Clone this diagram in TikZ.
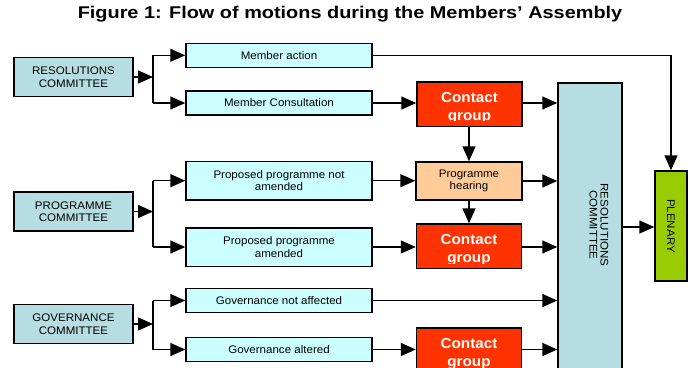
\documentclass[tikz,border=0pt]{standalone}
\usepackage{fontspec}
\setmainfont{Liberation Sans}[FakeStretch=1.05]
\newfontfamily\titlefont{Liberation Sans}[FakeStretch=1.17]
\usetikzlibrary{arrows.meta}
\definecolor{cyanfill}{HTML}{CCFFFF}
\definecolor{comfill}{HTML}{B6DDE1}
\definecolor{contactred}{HTML}{FF3300}
\definecolor{peach}{HTML}{FFCC99}
\definecolor{plengreen}{HTML}{99CC00}
\tikzset{
 box/.style={draw=black, line width=1.5pt, inner sep=0pt, align=center,
   font=\fontsize{11pt}{12.5pt}\selectfont},
 com/.style={box, fill=comfill, minimum width=119pt, minimum height=39pt},
 opt/.style={box, fill=cyanfill, minimum width=186pt, minimum height=24pt},
 opttwo/.style={opt, minimum height=38.5pt},
 hearing/.style={box, fill=peach, minimum width=106pt, minimum height=38pt},
 contact/.style={draw=black, line width=1.5pt, fill=contactred, inner sep=0pt,
   minimum width=105pt, minimum height=44.5pt,
   path picture={
     \clip ([yshift=5.5pt]path picture bounding box.south west) rectangle (path picture bounding box.north east);
     \node[anchor=base, text=white, inner sep=0pt, font=\fontsize{14.5pt}{17pt}\selectfont\bfseries]
       at ([yshift=-20.5pt]path picture bounding box.north) {Contact};
     \node[anchor=base, text=white, inner sep=0pt, font=\fontsize{14.5pt}{17pt}\selectfont\bfseries]
       at ([yshift=-38.5pt]path picture bounding box.north) {group};
   }},
 bigbox/.style={draw=black, line width=1.5pt, fill=comfill, minimum width=64pt, minimum height=297pt, inner sep=0pt},
 plen/.style={box, fill=plengreen, minimum width=32pt, minimum height=110pt},
 arr/.style={line width=1.5pt, -{Triangle[length=15pt,width=13pt]}},
 ln/.style={line width=1.5pt},
}
\begin{document}
\begin{tikzpicture}[x=1pt,y=-1pt]
\useasboundingbox (0,0) rectangle (690,367);
\clip (0,0) rectangle (690,367);
\node[anchor=base, inner sep=0pt, font=\titlefont\fontsize{17pt}{20pt}\selectfont\bfseries] (title) at (350,18)
  {Figure 1: Flow of motions during the Members’ Assembly};

% committees
\node[com] (rescom) at (73.5,77) {RESOLUTIONS\\COMMITTEE};
\node[com] (procom) at (73.5,211.5) {PROGRAMME\\COMMITTEE};
\node[com] (govcom) at (73.5,324) {GOVERNANCE\\COMMITTEE};

% options
\node[opt] (ma) at (279,55.3) {Member action};
\node[opt] (mc) at (279,103) {Member Consultation};
\node[opttwo] (pna) at (279,180.7) {Proposed programme not\\amended};
\node[opttwo] (pa) at (279,247) {Proposed programme\\amended};
\node[opt] (gna) at (279,300.5) {Governance not affected};
\node[opt] (ga) at (279,349.5) {Governance altered};

% middle column
\node[contact] (cg1) at (469.5,104) {};
\node[hearing] (ph) at (469,181) {Programme\\hearing};
\node[contact] (cg2) at (469,246.3) {};
\node[contact] (cg3) at (469,350.3) {};

% right
\node[bigbox] (rc) at (590,231.5) {};
\node[inner sep=0pt, align=center, font=\fontsize{11pt}{12.5pt}\selectfont] (rctext) at (597.5,225)
  {\rotatebox{-90}{\begin{tabular}{@{}c@{}}RESOLUTIONS\\[-1.5pt]COMMITTEE\end{tabular}}};
\node[plen] (pl) at (671,226) {\rotatebox{-90}{PLENARY}};

% branches
\coordinate (b1) at (153,77);
\coordinate (b2) at (153,211.5);
\coordinate (b3) at (153,324);
\draw[arr] (rescom.east) -- (b1);
\draw[arr] (procom.east) -- (b2);
\draw[arr] (govcom.east) -- (b3);
\draw[ln] (b1 |- ma.west) -- (b1 |- mc.west);
\draw[ln] (b2 |- pna.west) -- (b2 |- pa.west);
\draw[ln] (b3 |- gna.west) -- (b3 |- ga.west);
\draw[arr] (b1 |- ma.west) -- (ma.west);
\draw[arr] (b1 |- mc.west) -- (mc.west);
\draw[arr] (b2 |- pna.west) -- (pna.west);
\draw[arr] (b2 |- pa.west) -- (pa.west);
\draw[arr] (b3 |- gna.west) -- (gna.west);
\draw[arr] (b3 |- ga.west) -- (ga.west);

% flows
\draw[arr] (ma.east) -| (pl.north);
\draw[arr] (mc.east) -- (mc.east -| cg1.west);
\draw[arr] (mc.east -| cg1.east) -- (mc.east -| rc.west);
\draw[arr] (cg1.south -| ph.north) -- (ph.north);
\draw[arr] (pna.east) -- (pna.east -| ph.west);
\draw[arr] (ph.east) -- (ph.east -| rc.west);
\draw[arr] (ph.south) -- (cg2.north);
\draw[arr] (pa.east) -- (pa.east -| cg2.west);
\draw[arr] (pa.east -| cg2.east) -- (pa.east -| rc.west);
\draw[arr] (gna.east) -- (gna.east -| rc.west);
\draw[arr] (ga.east) -- (ga.east -| cg3.west);
\draw[arr] (ga.east -| cg3.east) -- (ga.east -| rc.west);
\draw[arr] (rc.east |- 0,227) -- (pl.west |- 0,227);
\end{tikzpicture}
\end{document}
